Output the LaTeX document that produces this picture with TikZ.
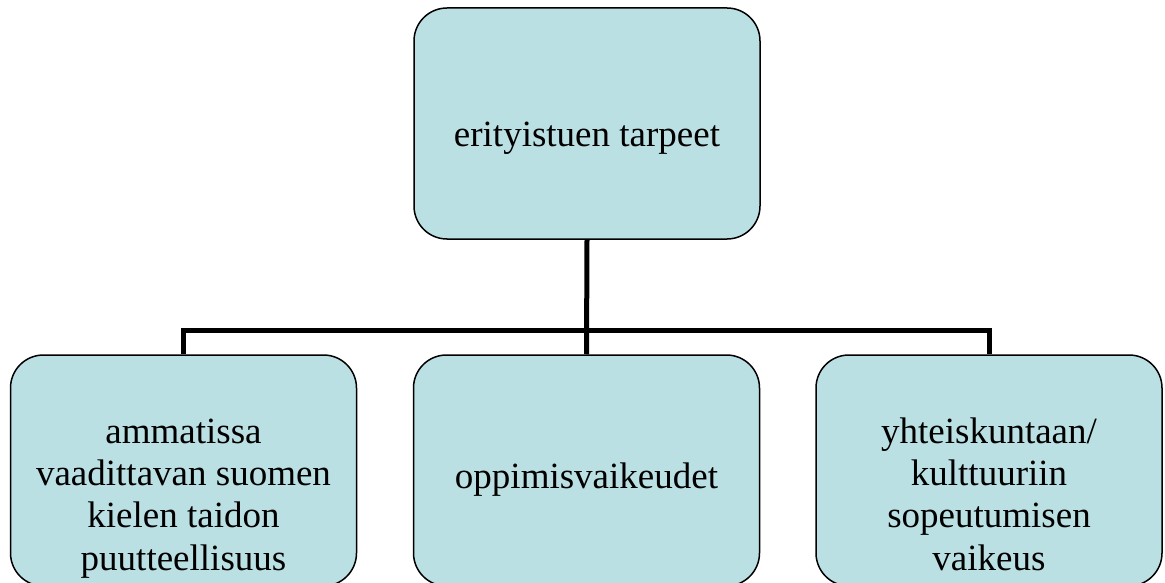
\documentclass[tikz,border=0pt]{standalone}
\usepackage{fontspec}
\setmainfont{Liberation Serif}
\usepackage{tikz}

\definecolor{boxfill}{RGB}{187,224,227}

\begin{document}
\begin{tikzpicture}[x=1pt,y=-1pt]
    \tikzset{box/.style={draw=black, line width=1.5pt, fill=boxfill, rounded corners=33pt,
        minimum width=346pt, minimum height=231pt, inner sep=0pt, align=center,
        font=\fontsize{37}{42.3}\selectfont}}
    \tikzset{link/.style={draw=black, line width=5pt}}
    \useasboundingbox (0,0) rectangle (1165,583);
    \node [box, text height=55pt, text depth=8pt] (needs) at (587,123.5) {erityistuen tarpeet};
    \node [box, text height=207pt, text depth=8pt] (lang) at (183.5,470.5) {ammatissa\\vaadittavan suomen\\kielen taidon\\puutteellisuus};
    \node [box, text height=44pt, text depth=8pt] (learn) at (586.5,470.5) {oppimisvaikeudet};
    \node [box, text height=207pt, text depth=8pt] (culture) at (989,470.5) {yhteiskuntaan/\\kulttuuriin\\sopeutumisen\\vaikeus};
    \coordinate (bus) at (587,330);
    \draw [link] (needs.south) -- (learn.north);
    \draw [link] (lang.north) |- (bus) -| (culture.north);
\end{tikzpicture}
\end{document}
